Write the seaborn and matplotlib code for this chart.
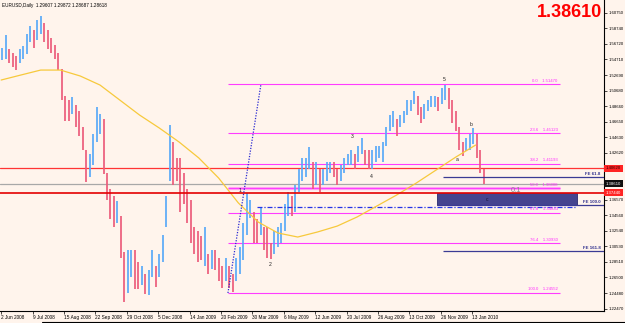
import matplotlib
matplotlib.use("Agg")
import matplotlib.pyplot as plt
import matplotlib.transforms as mtransforms
from matplotlib.patches import Rectangle
from matplotlib.lines import Line2D
import seaborn as sns
import pandas as pd

# ---------------- data (EURUSD daily, one entry per 3 bars) ----------------
bar_highs = [1.5620, 1.5790, 1.5600, 1.5560, 1.5520, 1.5600, 1.5650, 1.5800, 1.5900, 1.5850,
             1.5980, 1.6038, 1.5940, 1.5850, 1.5750, 1.5660, 1.5550, 1.5350, 1.5000, 1.4950,
             1.4980, 1.4880, 1.4800, 1.4600, 1.4300, 1.4250, 1.4500, 1.4860, 1.4760, 1.4700,
             1.4000, 1.3800, 1.3700, 1.3640, 1.3450, 1.2980, 1.3000, 1.3000, 1.3000, 1.2850,
             1.2800, 1.2700, 1.2750, 1.3000, 1.2800, 1.2950, 1.3200, 1.3700, 1.4620, 1.4400,
             1.4200, 1.4200, 1.4000, 1.3800, 1.3650, 1.3300, 1.3250, 1.3180, 1.3300, 1.2950,
             1.3000, 1.3000, 1.2900, 1.2800, 1.2900, 1.2800, 1.2700, 1.2900, 1.3050, 1.3350,
             1.3740, 1.3650, 1.3500, 1.3400, 1.3560, 1.3300, 1.3300, 1.3100, 1.3250, 1.3300,
             1.3350, 1.3600, 1.3750, 1.3700, 1.3850, 1.4050, 1.4200, 1.4200, 1.4340, 1.4150,
             1.4150, 1.4050, 1.4050, 1.4150, 1.4150, 1.4150, 1.4050, 1.4100, 1.4200, 1.4250,
             1.4300, 1.4250, 1.4350, 1.4450, 1.4300, 1.4300, 1.4300, 1.4350, 1.4350, 1.4400,
             1.4600, 1.4750, 1.4800, 1.4700, 1.4750, 1.4800, 1.4950, 1.4950, 1.5060, 1.5000,
             1.4850, 1.4900, 1.4950, 1.5000, 1.5000, 1.4980, 1.5100, 1.5144, 1.5100, 1.4950,
             1.4800, 1.4600, 1.4400, 1.4450, 1.4500, 1.4580, 1.4500, 1.4300, 1.4050]
bar_lows = [1.5460, 1.5480, 1.5420, 1.5370, 1.5330, 1.5420, 1.5480, 1.5540, 1.5700, 1.5620,
            1.5720, 1.5800, 1.5700, 1.5610, 1.5550, 1.5470, 1.5340, 1.4950, 1.4680, 1.4680,
            1.4760, 1.4600, 1.4480, 1.4300, 1.3890, 1.3950, 1.4100, 1.4400, 1.4500, 1.3990,
            1.3650, 1.3400, 1.3300, 1.3360, 1.2900, 1.2330, 1.2450, 1.2650, 1.2500, 1.2500,
            1.2550, 1.2430, 1.2420, 1.2650, 1.2530, 1.2650, 1.2850, 1.3300, 1.3900, 1.3850,
            1.3900, 1.3500, 1.3600, 1.3350, 1.3100, 1.2950, 1.2850, 1.2880, 1.2800, 1.2700,
            1.2760, 1.2750, 1.2600, 1.2520, 1.2600, 1.2520, 1.2457, 1.2600, 1.2700, 1.2880,
            1.3200, 1.3420, 1.3100, 1.3100, 1.3200, 1.3000, 1.2900, 1.2885, 1.2950, 1.3050,
            1.3100, 1.3250, 1.3450, 1.3450, 1.3500, 1.3750, 1.3900, 1.3950, 1.4050, 1.3800,
            1.3850, 1.3750, 1.3850, 1.3900, 1.4000, 1.3950, 1.3850, 1.3900, 1.4000, 1.4100,
            1.4100, 1.4050, 1.4150, 1.4250, 1.4100, 1.4050, 1.4050, 1.4150, 1.4200, 1.4150,
            1.4350, 1.4550, 1.4600, 1.4480, 1.4600, 1.4650, 1.4750, 1.4800, 1.4900, 1.4750,
            1.4650, 1.4700, 1.4800, 1.4850, 1.4850, 1.4800, 1.4900, 1.4950, 1.4830, 1.4650,
            1.4550, 1.4300, 1.4218, 1.4280, 1.4300, 1.4380, 1.4200, 1.4000, 1.3861]

ma_bars = [0, 17, 34, 51, 68, 85, 102, 119, 136, 153, 170, 187, 204, 221, 238, 255,
           272, 289, 306, 323, 340, 357, 374, 391, 408]
ma_values = [1.5204, 1.5269, 1.5333, 1.5333, 1.5256, 1.5139, 1.4945, 1.4751, 1.4583,
             1.4402, 1.4195, 1.3936, 1.3613, 1.3367, 1.3225, 1.3173, 1.3238, 1.3315,
             1.3432, 1.3574, 1.3716, 1.3872, 1.4040, 1.4208, 1.4363]

fib_levels = ["0.0", "23.6", "38.2", "50.0", "61.8", "76.4", "100.0"]
fib_prices = [1.51470, 1.45123, 1.41193, 1.38008, 1.34843, 1.30930, 1.24552]

fe_names = ["FE 61.8", "FE 100.0", "FE 161.8"]
fe_prices = [1.39495, 1.35873, 1.29922]

date_labels = ["2 Jun 2008", "9 Jul 2008", "15 Aug 2008", "22 Sep 2008", "29 Oct 2008",
               "5 Dec 2008", "14 Jan 2009", "20 Feb 2009", "30 Mar 2009", "6 May 2009",
               "12 Jun 2009", "20 Jul 2009", "26 Aug 2009", "13 Oct 2009", "26 Nov 2009",
               "13 Jan 2010"]
date_bars = [0, 27, 54, 81, 108, 135, 162, 189, 216, 243, 270, 297, 324, 351, 378, 405]

price_labels = ["1.22470", "1.24480", "1.26500", "1.28510", "1.30530", "1.32540", "1.34560",
                "1.36570", "1.42620", "1.44630", "1.46650", "1.48660", "1.50680", "1.52690",
                "1.54710", "1.56720", "1.58740", "1.60750"]

wave_labels = ["1", "2", "3", "4", "5", "a", "b", "c"]
wave_bars = [205, 231, 302, 318, 381, 392, 404, 418]
wave_prices = [1.3780, 1.2824, 1.4479, 1.3962, 1.5217, 1.4182, 1.4635, 1.3660]

bid_price = 1.38610
red_upper = 1.40620
red_lower = 1.37440
dashdot_price = 1.35610
box_top, box_bottom = 1.37446, 1.35873
diag_start = (195, 1.2449)
diag_end = (223.4, 1.5152)

# ---------------- figure ----------------
W, H = 625, 323
sns.set_theme(style="white")
plt.rcParams["font.family"] = ["Liberation Sans", "DejaVu Sans"]
BG = "#fff4ec"

fig = plt.figure(figsize=(W / 100, H / 100), dpi=100, facecolor=BG)
ax = fig.add_axes([0, 12 / H, 604 / W, 311 / H], facecolor=BG)
ax.set_xlim(-1, 518.35)
ax.set_ylim(1.22160, 1.62393)

# candles (high-low bars)
df = pd.DataFrame({"bar": [3 * i + 1 for i in range(len(bar_highs))],
                   "high": bar_highs, "low": bar_lows})
df["mid"] = (df["high"] + df["low"]) / 2
df["up"] = df["mid"].diff().fillna(0) >= 0
colors = ["#5aaaf8" if u else "#ec5c7c" for u in df["up"]]
ax.vlines(df["bar"], df["low"], df["high"], colors=colors, linewidth=1.25, zorder=3)

# moving average
sns.lineplot(x=ma_bars, y=ma_values, ax=ax, color="#f7c93c", linewidth=0.9, zorder=4)

# fibonacci retracement lines
for lev, p in zip(fib_levels, fib_prices):
    if lev == "50.0":
        ax.hlines(p, 195, 480.5, color="#ffa6f2", linewidth=2.4, zorder=2)
    ax.hlines(p, 195, 480.5, color="#ff3cff", linewidth=0.8, zorder=2)
    ax.text(478.5, p + 0.0022, f"{lev}    {p:.5f}", fontsize=3.1, color="#ff2cff",
            ha="right", va="bottom", zorder=6)

# full-width price lines
ax.axhline(red_upper, color="#ff3434", linewidth=0.9, zorder=2)
ax.axhline(bid_price, color="#a8a8a8", linewidth=0.9, zorder=2)
ax.axhline(red_lower, color="#e40000", linewidth=1.2, zorder=5)

# FE lines
fe_starts = [380, 375, 380]
for name, p, s in zip(fe_names, fe_prices, fe_starts):
    ax.hlines(p, s, 518.35, color="#3b3b94", linewidth=0.9, zorder=5)
    ax.text(515.5, p + 0.0015, name, fontsize=3.2, color="#2c2c8c", ha="right",
            va="bottom", weight="bold", zorder=6)

# dash-dot level
ax.hlines(dashdot_price, 220, 493, color="#2434e6", linewidth=0.9,
          linestyles=(0, (4, 1.5, 1, 1.5)), zorder=3)

# navy box
ax.add_patch(Rectangle((375, box_bottom), 120, box_top - box_bottom,
                       facecolor="#45448f", edgecolor="#2a2a70", linewidth=0.6, zorder=4))

# diagonal dotted line
ax.plot([diag_start[0], diag_end[0]], [diag_start[1], diag_end[1]],
        linestyle=(0, (1, 1.2)), color="#2a2ad2", linewidth=0.9, zorder=5)

# wave labels
for t, b, p in zip(wave_labels, wave_bars, wave_prices):
    ax.text(b, p, t, fontsize=3.6, color="#202020" if t != "c" else "#15153a",
            ha="center", va="center", zorder=7)
ax.text(443, 1.3781, "0:1", fontsize=5.5, color="#8a8a8a", ha="center", va="center", zorder=7)

# axes / ticks
for s in ["top", "left"]:
    ax.spines[s].set_visible(False)
for s in ["right", "bottom"]:
    ax.spines[s].set_color("black")
    ax.spines[s].set_linewidth(0.8)

ax.set_xticks(date_bars)
ax.set_xticklabels(date_labels, ha="left")
ax.tick_params(axis="x", direction="out", length=2, width=0.5, pad=1.2,
               labelsize=3.4, colors="black", bottom=True)
ax.yaxis.tick_right()
ax.set_yticks([float(v) for v in price_labels])
ax.set_yticklabels(price_labels)
ax.tick_params(axis="y", direction="out", length=2, width=0.5, pad=1.2,
               labelsize=3.1, colors="black", right=True, left=False)
ax.set_xlabel("")
ax.set_ylabel("")

# price markers on the axis
trans = mtransforms.blended_transform_factory(ax.transAxes, ax.transData)
for p, fc, tc in [(red_upper, "#ff2424", "#300000"), (bid_price, "#101010", "white"),
                  (red_lower, "#ff2424", "white")]:
    ax.text(1.0 + 2 / 604, p, f"{p:.5f}", transform=trans, fontsize=3.1, color=tc,
            ha="left", va="center", clip_on=False, zorder=8,
            bbox=dict(boxstyle="square,pad=0.35", fc=fc, ec="none"))

# header texts
fig.text(2 / W, 1 - 5 / H, "EURUSD,Daily  1.29607 1.29872 1.28687 1.28618",
         fontsize=3.3, color="black", ha="left", va="center")
fig.text(602 / W, 1 - 4 / H, "1.38610", fontsize=13, weight="bold", color="#ff0000",
         ha="right", va="top")

# window frame line at bottom
fig.add_artist(Line2D([42 / W, 1], [1 - 321.5 / H, 1 - 321.5 / H], color="black", linewidth=0.8))

fig.savefig("out.png", dpi=100, facecolor=BG)
